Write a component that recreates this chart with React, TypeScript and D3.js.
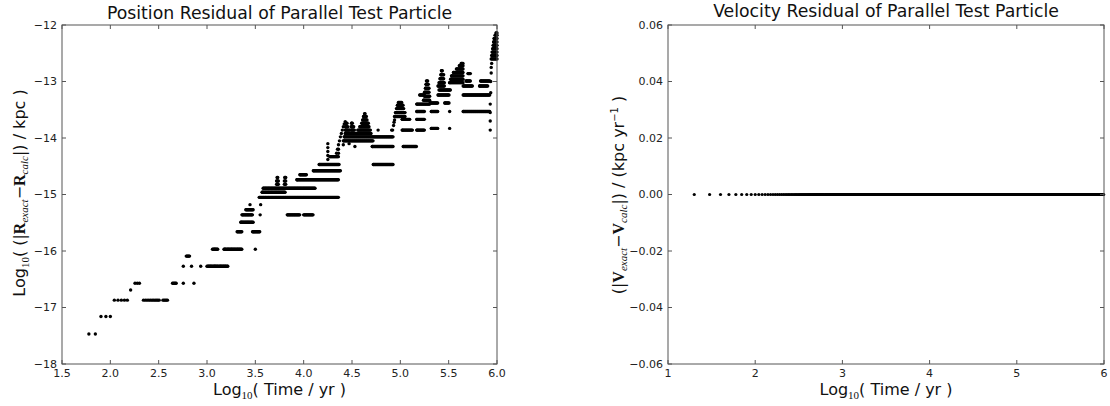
import React from 'react';
import * as d3 from 'd3';

// tick values
const posXTicks = [1.5, 2.0, 2.5, 3.0, 3.5, 4.0, 4.5, 5.0, 5.5, 6.0];
const posYTicks = [-18, -17, -16, -15, -14, -13, -12];
const velXTicks = [1, 2, 3, 4, 5, 6];
const velYTicks = [-0.06, -0.04, -0.02, 0, 0.02, 0.04, 0.06];

// time grid of the integration (yr)
const timeStep = 10;
const firstTime = 20;
const lastTime = 1e6;

// position residual, read off the plot as runs of equal value:
// [log10 t start, log10 t end, log10 residual]
const positionRuns: [number, number, number][] = [
  [1.77, 1.85, -17.47],
  [1.89, 2.0, -17.16],
  [2.03, 2.19, -16.87],
  [2.21, 2.21, -16.69],
  [2.24, 2.32, -16.57],
  [2.33, 2.51, -16.87],
  [2.54, 2.6, -16.87],
  [2.64, 2.69, -16.57],
  [2.755, 2.755, -16.57],
  [2.755, 2.755, -16.27],
  [2.78, 2.82, -16.09],
  [2.84, 2.84, -16.27],
  [2.865, 2.865, -16.57],
  [2.935, 2.935, -16.27],
  [3.0, 3.22, -16.27],
  [3.055, 3.117, -15.97],
  [3.175, 3.36, -15.97],
  [3.5, 3.5, -15.97],
  [3.31, 3.36, -15.66],
  [3.47, 3.55, -15.66],
  [3.35, 3.48, -15.49],
  [3.36, 3.47, -15.36],
  [3.55, 3.55, -15.36],
  [3.83, 3.96, -15.36],
  [4.0, 4.1, -15.36],
  [3.4, 3.48, -15.27],
  [3.445, 3.445, -15.18],
  [3.555, 3.555, -15.18],
  [3.54, 4.36, -15.05],
  [3.57, 3.81, -14.96],
  [3.58, 4.12, -14.89],
  [3.72, 3.74, -14.82],
  [3.72, 3.74, -14.76],
  [3.725, 3.735, -14.7],
  [3.8, 3.82, -14.82],
  [3.8, 3.82, -14.76],
  [3.805, 3.815, -14.7],
  [3.93, 4.36, -14.74],
  [3.96, 4.03, -14.65],
  [4.1, 4.38, -14.58],
  [4.16, 4.37, -14.47],
  [4.27, 4.36, -14.33],
  [4.41, 4.72, -14.05],
  [4.42, 4.71, -13.98],
  [4.43, 4.7, -13.92],
  [4.43, 4.48, -13.86],
  [4.49, 4.53, -13.86],
  [4.56, 4.69, -13.86],
  [4.43, 4.46, -13.8],
  [4.49, 4.52, -13.8],
  [4.58, 4.68, -13.8],
  [4.435, 4.455, -13.74],
  [4.495, 4.51, -13.74],
  [4.6, 4.67, -13.74],
  [4.61, 4.66, -13.68],
  [4.62, 4.65, -13.62],
  [4.63, 4.64, -13.57],
  [4.71, 4.93, -13.98],
  [4.71, 4.93, -14.15],
  [4.72, 4.93, -14.47],
  [4.77, 4.77, -13.86],
  [4.91, 4.91, -13.86],
  [4.94, 5.05, -13.62],
  [4.95, 5.05, -13.55],
  [4.96, 5.04, -13.48],
  [4.97, 5.03, -13.42],
  [4.98, 5.02, -13.37],
  [5.02, 5.13, -13.86],
  [5.17, 5.25, -13.86],
  [5.03, 5.17, -14.15],
  [5.02, 5.1, -13.67],
  [5.17, 5.25, -13.67],
  [5.17, 5.25, -13.53],
  [5.17, 5.25, -13.4],
  [5.2, 5.25, -13.24],
  [5.24, 5.31, -13.4],
  [5.24, 5.31, -13.33],
  [5.25, 5.31, -13.26],
  [5.25, 5.3, -13.19],
  [5.26, 5.3, -13.12],
  [5.265, 5.29, -13.05],
  [5.27, 5.285, -12.99],
  [5.32, 5.39, -13.83],
  [5.32, 5.39, -13.53],
  [5.31, 5.39, -13.38],
  [5.39, 5.51, -13.24],
  [5.4, 5.52, -13.15],
  [5.51, 5.51, -13.83],
  [5.51, 5.51, -13.53],
  [5.46, 5.51, -13.38],
  [5.39, 5.46, -13.08],
  [5.4, 5.46, -13.02],
  [5.41, 5.45, -12.95],
  [5.42, 5.45, -12.88],
  [5.425, 5.44, -12.81],
  [5.51, 5.65, -13.02],
  [5.52, 5.65, -12.96],
  [5.53, 5.65, -12.9],
  [5.55, 5.65, -12.84],
  [5.58, 5.65, -12.78],
  [5.61, 5.65, -12.72],
  [5.63, 5.65, -12.68],
  [5.65, 5.93, -13.53],
  [5.65, 5.93, -13.24],
  [5.65, 5.75, -13.08],
  [5.82, 5.91, -13.08],
  [5.68, 5.73, -12.99],
  [5.83, 5.93, -12.99],
  [5.7, 5.73, -12.86],
  [5.94, 6.0, -12.6],
  [5.945, 6.0, -12.54],
  [5.95, 6.0, -12.48],
  [5.955, 6.0, -12.42],
  [5.96, 6.0, -12.36],
  [5.965, 6.0, -12.3],
  [5.97, 6.0, -12.24],
  [5.98, 6.0, -12.18],
  [5.99, 6.0, -12.14],
];

// single points off the runs: [log10 t, log10 residual]
const positionPoints: [number, number][] = [
  [4.25, -14.1], [4.25, -14.17], [4.25, -14.24], [4.25, -14.31], [4.25, -14.38],
  [4.36, -14.2], [4.36, -14.27],
  [4.34, -14.27], [4.35, -14.2], [4.36, -14.12], [4.37, -14.05], [4.38, -13.98],
  [4.39, -13.92], [4.4, -13.86], [4.41, -13.8], [4.42, -13.75], [4.43, -13.71],
  [4.47, -14.1], [4.53, -14.15], [4.41, -14.12],
  [4.92, -13.86], [4.93, -13.78], [4.935, -13.72], [4.94, -13.68],
  [5.93, -13.86], [5.93, -13.7], [5.93, -13.55], [5.93, -13.4],
  [5.935, -13.2], [5.935, -13.0], [5.94, -12.85], [5.94, -12.75], [5.945, -12.68],
];

// velocity residual is zero at every step
const velocityResidual = 0;

const W = 1110;
const H = 406;
const top = 25;
const bottom = 364;
const leftBox = { x0: 62, x1: 497 };
const rightBox = { x0: 668, x1: 1104 };
const sans = '"DejaVu Sans", sans-serif';
const serif = '"Liberation Serif", "DejaVu Serif", serif';
const axisColor = '#555';
const tickLen = 4;

function dedupe(pts: [number, number][]) {
  const seen = new Set<string>();
  return pts.filter(([x, y]) => {
    const k = Math.round(x * 1.5) + '_' + Math.round(y * 1.5);
    if (seen.has(k)) return false;
    seen.add(k);
    return true;
  });
}

function Frame({ x, y, xTicks, yTicks, xFmt, yFmt }: any) {
  const [x0, x1] = x.range();
  return (
    <g>
      <rect x={x0} y={top} width={x1 - x0} height={bottom - top} fill="none" stroke={axisColor} strokeWidth={1} />
      {xTicks.map((t: number) => (
        <g key={'x' + t}>
          <line x1={x(t)} x2={x(t)} y1={bottom} y2={bottom - tickLen} stroke={axisColor} />
          <line x1={x(t)} x2={x(t)} y1={top} y2={top + tickLen} stroke={axisColor} />
          <text x={x(t)} y={377} textAnchor="middle" fontSize={11} fontFamily={sans} fill="#222">{xFmt(t)}</text>
        </g>
      ))}
      {yTicks.map((t: number) => (
        <g key={'y' + t}>
          <line x1={x0} x2={x0 + tickLen} y1={y(t)} y2={y(t)} stroke={axisColor} />
          <line x1={x1} x2={x1 - tickLen} y1={y(t)} y2={y(t)} stroke={axisColor} />
          <text x={x0 - 5} y={y(t)} dy="0.35em" textAnchor="end" fontSize={11} fontFamily={sans} fill="#222">{yFmt(t)}</text>
        </g>
      ))}
    </g>
  );
}

function TimeLabel({ cx }: { cx: number }) {
  return (
    <text x={cx} y={395} textAnchor="middle" fontSize={16} fontFamily={sans} fill="#111">
      Log<tspan fontFamily={serif} fontSize={11} dy={4}>10</tspan>
      <tspan dy={-4}>( Time / yr )</tspan>
    </text>
  );
}

export default function App() {
  const xPos = d3.scaleLinear().domain([1.5, 6.0]).range([leftBox.x0, leftBox.x1]);
  const yPos = d3.scaleLinear().domain([-18, -12]).range([bottom, top]);
  const xVel = d3.scaleLinear().domain([1, 6]).range([rightBox.x0, rightBox.x1]);
  const yVel = d3.scaleLinear().domain([-0.06, 0.06]).range([bottom, top]);

  // position residual dots, one per time step inside each run
  const posPts: [number, number][] = [];
  positionRuns.forEach(([a, b, r]) => {
    if (a === b) {
      posPts.push([xPos(a), yPos(r)]);
      return;
    }
    const n0 = Math.ceil(Math.pow(10, a) / timeStep);
    const n1 = Math.floor(Math.pow(10, b) / timeStep);
    for (let n = n0; n <= n1; n++) posPts.push([xPos(Math.log10(n * timeStep)), yPos(r)]);
  });
  positionPoints.forEach(([a, r]) => posPts.push([xPos(a), yPos(r)]));
  const posDots = dedupe(posPts);

  const velPts: [number, number][] = [];
  for (let t = firstTime; t <= lastTime; t += timeStep) velPts.push([xVel(Math.log10(t)), yVel(velocityResidual)]);
  const velDots = dedupe(velPts);

  const fmtPosX = d3.format('.1f');
  const fmtPosY = (v: number) => String(v).replace('-', '\u2212');
  const fmtVelX = d3.format('d');
  const fmtVelY = (v: number) => d3.format('.2f')(v).replace('-', '\u2212');

  return (
    <svg width={W} height={H} style={{ position: 'absolute', left: 0, top: 0, background: '#fff' }}>
      <rect width={W} height={H} fill="#fff" />
      {/* left panel */}
      <text x={(leftBox.x0 + leftBox.x1) / 2} y={19} textAnchor="middle" fontSize={17.3} fontFamily={sans} fill="#111">
        Position Residual of Parallel Test Particle
      </text>
      <g>
        {posDots.map(([px, py], i) => (
          <circle key={i} cx={px} cy={py} r={1.7} fill="#000" />
        ))}
      </g>
      <Frame x={xPos} y={yPos} xTicks={posXTicks} yTicks={posYTicks} xFmt={fmtPosX} yFmt={fmtPosY} />
      <TimeLabel cx={(leftBox.x0 + leftBox.x1) / 2} />
      <text transform="translate(25,193) rotate(-90)" textAnchor="middle" fontSize={16} fontFamily={sans} fill="#111">
        Log<tspan fontFamily={serif} fontSize={11} dy={4}>10</tspan>
        <tspan dy={-4}>( (|</tspan>
        <tspan fontFamily={serif} fontWeight="bold">R</tspan>
        <tspan fontFamily={serif} fontStyle="italic" fontSize={11} dy={3}>exact</tspan>
        <tspan dy={-3}>{'\u2212'}</tspan>
        <tspan fontFamily={serif} fontWeight="bold">R</tspan>
        <tspan fontFamily={serif} fontStyle="italic" fontSize={11} dy={3}>calc</tspan>
        <tspan dy={-3}>|) / kpc )</tspan>
      </text>

      {/* right panel */}
      <text x={(rightBox.x0 + rightBox.x1) / 2} y={17} textAnchor="middle" fontSize={17.3} fontFamily={sans} fill="#111">
        Velocity Residual of Parallel Test Particle
      </text>
      <g>
        {velDots.map(([px, py], i) => (
          <circle key={i} cx={px} cy={py} r={1.6} fill="#000" />
        ))}
      </g>
      <Frame x={xVel} y={yVel} xTicks={velXTicks} yTicks={velYTicks} xFmt={fmtVelX} yFmt={fmtVelY} />
      <TimeLabel cx={(rightBox.x0 + rightBox.x1) / 2} />
      <text transform="translate(624,195) rotate(-90)" textAnchor="middle" fontSize={16} fontFamily={sans} fill="#111">
        (|<tspan fontFamily={serif} fontWeight="bold">V</tspan>
        <tspan fontFamily={serif} fontStyle="italic" fontSize={11} dy={3}>exact</tspan>
        <tspan dy={-3}>{'\u2212'}</tspan>
        <tspan fontFamily={serif} fontWeight="bold">V</tspan>
        <tspan fontFamily={serif} fontStyle="italic" fontSize={11} dy={3}>calc</tspan>
        <tspan dy={-3}>|) / (kpc yr</tspan>
        <tspan fontSize={10} dy={-6}>{'\u2212'}1</tspan>
        <tspan dy={6}> )</tspan>
      </text>
    </svg>
  );
}
